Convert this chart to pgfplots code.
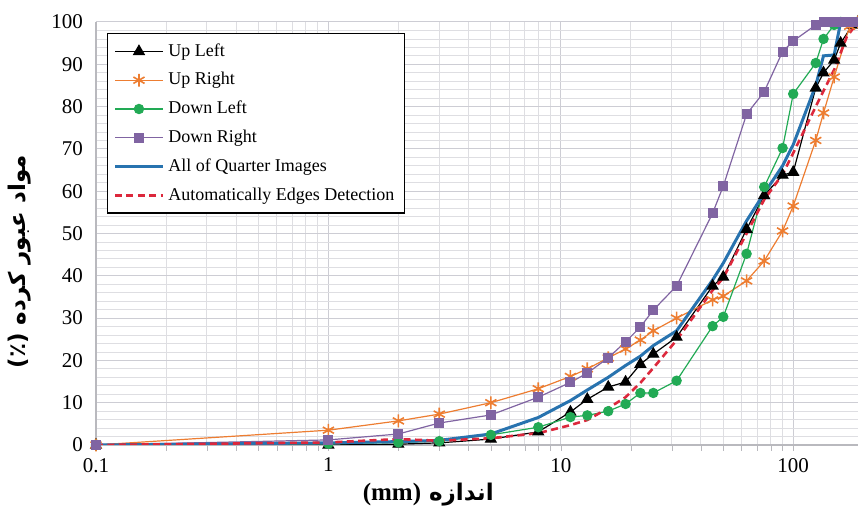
\documentclass[border=0pt]{standalone}
\usepackage{fontspec}
\setmainfont{Liberation Serif}
\newfontfamily\arabicfont[Script=Arabic]{DejaVu Sans}
\TeXXeTstate=1
\usepackage{pgfplots}
\pgfplotsset{compat=1.18}
\definecolor{cup}{RGB}{237,125,49}
\definecolor{cdl}{RGB}{34,170,85}
\definecolor{cdr}{RGB}{128,100,162}
\definecolor{call}{RGB}{40,115,175}
\definecolor{cauto}{RGB}{220,40,60}
\definecolor{cgrid}{RGB}{222,222,226}
\definecolor{cgridmaj}{RGB}{205,205,212}
\definecolor{caxis}{RGB}{185,185,190}

\begin{document}
\begin{tikzpicture}
\begin{axis}[
  scale only axis, width=381pt, height=211.5pt,
  xmode=log, xmin=0.1, xmax=190, ymin=0, ymax=100,
  xtick={0.1,1,10,100}, xticklabels={0.1,1,10,100},
  ytick={0,10,...,100}, minor y tick num=4,
  grid=both, major grid style={cgridmaj, line width=0.5pt}, minor grid style={cgrid, line width=0.4pt},
  axis x line*=bottom, axis y line*=left,
  axis line style={caxis, line width=0.6pt, -},
  ytick style={draw=none}, xtick style={caxis},
  tick align=outside, major tick length=3pt, minor tick length=3pt,
  tick label style={font=\fontsize{10.5}{12}\selectfont},
  /pgf/number format/assume math mode=true,
  ylabel={\arabicfont\bfseries\fontsize{11.5}{13}\selectfont\beginR مواد عبور کرده \beginL(٪)\endL\endR},
  ylabel style={at={(axis description cs:-0.1,0.433)}, anchor=center, rotate=0},
  xlabel={\arabicfont\bfseries\fontsize{11.5}{13}\selectfont\beginR اندازه \beginL{\rmfamily\bfseries\fontsize{12.5}{14}\selectfont(mm)}\endL\endR},
  xlabel style={at={(axis description cs:0.436,-0.118)}, anchor=center},
  legend style={at={(rel axis cs:0.0144,0.974)}, anchor=north west, draw=black, fill=white,
    font=\fontsize{9}{10}\selectfont, row sep=2.6pt, inner sep=3pt, line width=0.6pt},
  legend cell align=left,
  legend image code/.code={\draw[mark repeat=2,mark phase=2,#1] plot coordinates {(0cm,0cm) (0.42cm,0cm) (0.84cm,0cm)};},
]
\addplot[black, line width=0.6pt, mark=triangle*, mark size=3pt] coordinates {
 (0.1,0) (1,0) (2,0.2) (3,0.5) (5,1.4) (8,3.1) (11,7.8) (13,10.8) (16,13.7) (19,14.9)
 (22,19.1) (25,21.5) (31.5,25.5) (45,37.6) (50,39.7) (63,51) (75,59) (90,63.8) (100,64.5)
 (125,84.4) (135,88) (150,91) (160,95) (180,99.3) (190,100)
};
\addlegendentry{Up Left}
\addplot[cup, line width=0.6pt, mark=asterisk, mark size=3.2pt, mark options={line width=0.8pt}] coordinates {
 (0.1,0) (1,3.5) (2,5.7) (3,7.3) (5,10) (8,13.3) (11,16.2) (13,18) (16,20.6) (19,22.7)
 (22,24.8) (25,27) (31.5,30) (45,34.3) (50,35.2) (63,38.8) (75,43.5) (90,50.6) (100,56.5)
 (125,72) (135,78.5) (150,87) (175,99) (190,100)
};
\addlegendentry{Up Right}
\addplot[cdl, line width=0.6pt, mark=*, mark size=2.3pt] coordinates {
 (0.1,0) (1,0.3) (2,0.6) (3,0.9) (5,2.4) (8,4.2) (11,6.6) (13,7) (16,8) (19,9.7)
 (22,12.3) (25,12.3) (31.5,15.2) (45,28.1) (50,30.3) (63,45.2) (75,61) (90,70.2) (100,83)
 (125,90.3) (135,96) (150,99.3) (160,100) (190,100)
};
\addlegendentry{Down Left}
\addplot[cdr, line width=0.6pt, mark=square*, mark size=2.2pt] coordinates {
 (0.1,0) (1,1.2) (2,2.6) (3,5.2) (5,7.1) (8,11.3) (11,14.8) (13,17) (16,20.6) (19,24.4)
 (22,27.9) (25,31.9) (31.5,37.6) (45,54.8) (50,61.2) (63,78.2) (75,83.5) (90,93) (100,95.5)
 (125,99.3) (135,100) (150,100) (160,100) (175,100) (190,100)
};
\addlegendentry{Down Right}
\addplot[call, line width=1.5pt, no marks] coordinates {
 (0.1,0) (1,0.5) (2,0.8) (3,1.1) (5,2.6) (8,6.5) (11,10.5) (13,13) (16,16) (19,18.8)
 (22,21) (25,23.5) (31.5,27) (45,39) (50,43) (63,53) (75,59.5) (90,66) (100,71)
 (125,85) (135,92) (150,92.2) (160,100) (190,100)
};
\addlegendentry{All of Quarter Images}
\addplot[cauto, line width=1.3pt, dash pattern=on 3.5pt off 2.2pt, no marks] coordinates {
 (0.1,0) (1,0.6) (2,1.4) (3,1) (5,1.6) (8,2.8) (11,4.7) (13,5.9) (16,8.7) (19,11.3)
 (22,14.7) (25,18.2) (31.5,24.8) (45,36.6) (50,39.5) (63,50) (75,58) (90,64) (100,69)
 (125,80) (150,88.7) (170,96.5) (190,100)
};
\addlegendentry{Automatically Edges Detection}
\end{axis}
\pgfresetboundingbox
\path[use as bounding box] ([shift={(-48pt,-34pt)}]current axis.south west) rectangle ([shift={(0pt,11pt)}]current axis.north east);
\end{tikzpicture}
\end{document}
